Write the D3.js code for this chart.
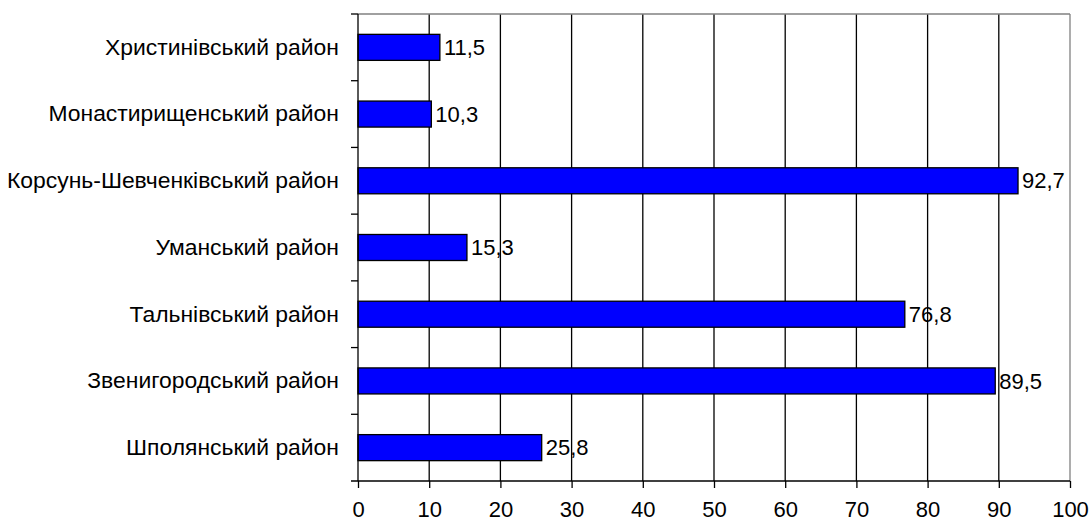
<!DOCTYPE html>
<html>
<head>
<meta charset="utf-8">
<script src="https://cdn.jsdelivr.net/npm/d3@7"></script>
<style>
  body { margin: 0; background: #fff; }
  text { font-family: "Liberation Sans", Arial, sans-serif; }
</style>
</head>
<body>
<svg id="chart" width="1091" height="522"></svg>
<script>
const districts = [
  "Христинівський район",
  "Монастирищенський район",
  "Корсунь-Шевченківський район",
  "Уманський район",
  "Тальнівський район",
  "Звенигородський район",
  "Шполянський район"
];
const values = [11.5, 10.3, 92.7, 15.3, 76.8, 89.5, 25.8];
const xTicks = [0, 10, 20, 30, 40, 50, 60, 70, 80, 90, 100];

const svg = d3.select("#chart");
const plotLeft = 358, plotRight = 1070, plotTop = 14, plotBottom = 481;
const fontSize = "22px";

const x = d3.scaleLinear().domain([0, 100]).range([plotLeft, plotRight]);
const y = d3.scaleBand().domain(districts).range([plotTop, plotBottom]).paddingInner(0.61).paddingOuter(0.305);
const yOuter = d3.scaleBand().domain(districts).range([plotTop, plotBottom]);

// gridlines
svg.append("g").selectAll("line")
  .data(xTicks.slice(1, -1))
  .enter().append("line")
  .attr("x1", d => x(d)).attr("x2", d => x(d))
  .attr("y1", plotTop).attr("y2", plotBottom)
  .attr("stroke", "#000").attr("stroke-width", 1.3);

// frame top/right in grey
svg.append("line").attr("x1", plotLeft).attr("x2", plotRight).attr("y1", plotTop).attr("y2", plotTop)
  .attr("stroke", "#808080").attr("stroke-width", 1.3);
svg.append("line").attr("x1", plotRight).attr("x2", plotRight).attr("y1", plotTop).attr("y2", plotBottom)
  .attr("stroke", "#808080").attr("stroke-width", 1.3);

// bars
svg.append("g").selectAll("rect")
  .data(districts)
  .enter().append("rect")
  .attr("x", x(0))
  .attr("y", d => y(d))
  .attr("width", (d, i) => x(values[i]) - x(0))
  .attr("height", y.bandwidth())
  .attr("fill", "#0000ff")
  .attr("stroke", "#000")
  .attr("stroke-width", 1.3);

// value labels
svg.append("g").selectAll("text")
  .data(districts)
  .enter().append("text")
  .attr("x", (d, i) => x(values[i]) + 4)
  .attr("y", d => y(d) + y.bandwidth() / 2)
  .attr("dy", "0.35em")
  .style("font-size", fontSize)
  .attr("fill", "#000")
  .text((d, i) => String(values[i]).replace(".", ","));

// x axis
const xAxis = svg.append("g")
  .attr("transform", `translate(0,${plotBottom})`)
  .call(d3.axisBottom(x).tickValues(xTicks).tickSize(7).tickPadding(13).tickFormat(d3.format("d")));
xAxis.select(".domain").attr("stroke", "#000").attr("stroke-width", 1.3).attr("d", `M${plotLeft - 7},0H${plotRight}`);
xAxis.selectAll(".tick line").attr("stroke", "#000").attr("stroke-width", 1.3);
xAxis.selectAll(".tick text").style("font-size", fontSize).attr("fill", "#000");

// y axis
const yAxis = svg.append("g")
  .attr("transform", `translate(${plotLeft},0)`)
  .call(d3.axisLeft(y).tickSize(0).tickPadding(19));
yAxis.select(".domain").attr("stroke", "#000").attr("stroke-width", 1.3).attr("d", `M0,${plotTop}V${plotBottom}`);
yAxis.selectAll(".tick text").style("font-size", "22.9px").attr("fill", "#000");

// y tick marks at category boundaries
svg.append("g").selectAll("line")
  .data(districts)
  .enter().append("line")
  .attr("x1", plotLeft - 7).attr("x2", plotLeft)
  .attr("y1", d => yOuter(d)).attr("y2", d => yOuter(d))
  .attr("stroke", "#000").attr("stroke-width", 1.3);
</script>
</body>
</html>
